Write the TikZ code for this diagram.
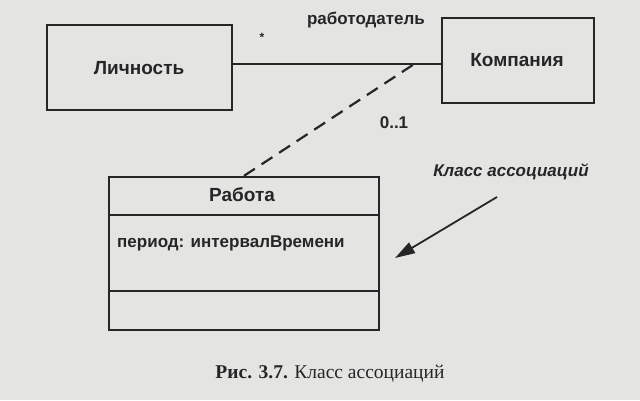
\documentclass[tikz,border=0pt]{standalone}
\usepackage{fontspec}
\setmainfont{Liberation Sans}
\newfontfamily\capfont{Liberation Serif}
\usetikzlibrary{arrows.meta}
\definecolor{paper}{HTML}{E4E4E2}
\definecolor{ink}{HTML}{262626}
\tikzset{
  classbox/.style={draw=ink, line width=2.3pt, rectangle, inner sep=0pt},
  lbl/.style={text=ink, font=\bfseries\fontsize{17}{20}\selectfont, inner sep=0pt},
  cname/.style={lbl, font=\bfseries\fontsize{19}{22}\selectfont},
  assoc/.style={draw=ink, line width=2pt},
  assocdash/.style={draw=ink, line width=2.2pt, dash pattern=on 13pt off 8pt},
  pointer/.style={draw=ink, fill=ink, line width=1.8pt, -{Triangle[length=20pt,width=12pt]}},
}
\begin{document}
\begin{tikzpicture}[x=1pt, y=-1pt]
\fill[paper] (0,0) rectangle (640,400);
\useasboundingbox (0,0) rectangle (640,400);

% classes
\node[classbox, minimum width=185pt, minimum height=85pt] (lich) at (139.5,67.5) {};
\node[cname] (lichT) at (139,68) {Личность};
\node[classbox, minimum width=152pt, minimum height=85pt] (komp) at (518,60.5) {};
\node[cname] (kompT) at (517,60) {Компания};

% association
\coordinate (m) at (0,63.5);
\draw[assoc] (lich.east |- m) -- (komp.west |- m);
\coordinate (ac) at (415,63.5);
\node[lbl] (role) at (366,20) {работодатель};
\node[lbl, font=\bfseries\fontsize{12}{14}\selectfont] (star) at (262,37) {*};
\node[lbl] (mult) at (394,123) {0..1};

% association class
\node[classbox, minimum width=270pt, minimum height=153pt] (rab) at (244,253.5) {};
\draw[draw=ink, line width=2.3pt] (rab.west |- 0,215) -- (rab.east |- 0,215);
\draw[draw=ink, line width=2.3pt] (rab.west |- 0,291) -- (rab.east |- 0,291);
\node[cname] (rabT) at (242,195) {Работа};
\node[lbl, anchor=west] (attr) at (117,243) {период: интервалВремени};

\draw[assocdash] (rab.north) -- (ac);

% note
\node[lbl, font=\bfseries\itshape\fontsize{17}{20}\selectfont] (note) at (511,172) {Класс ассоциаций};
\coordinate (tail) at (497,197);
\coordinate (tip) at (395,258);
\draw[pointer] (tail) -- (tip);

% caption
\node[text=ink, inner sep=0pt, font=\capfont\fontsize{19.5}{22}\selectfont] (cap) at (330,374) {\textbf{Рис. 3.7.} Класс ассоциаций};
\end{tikzpicture}
\end{document}
